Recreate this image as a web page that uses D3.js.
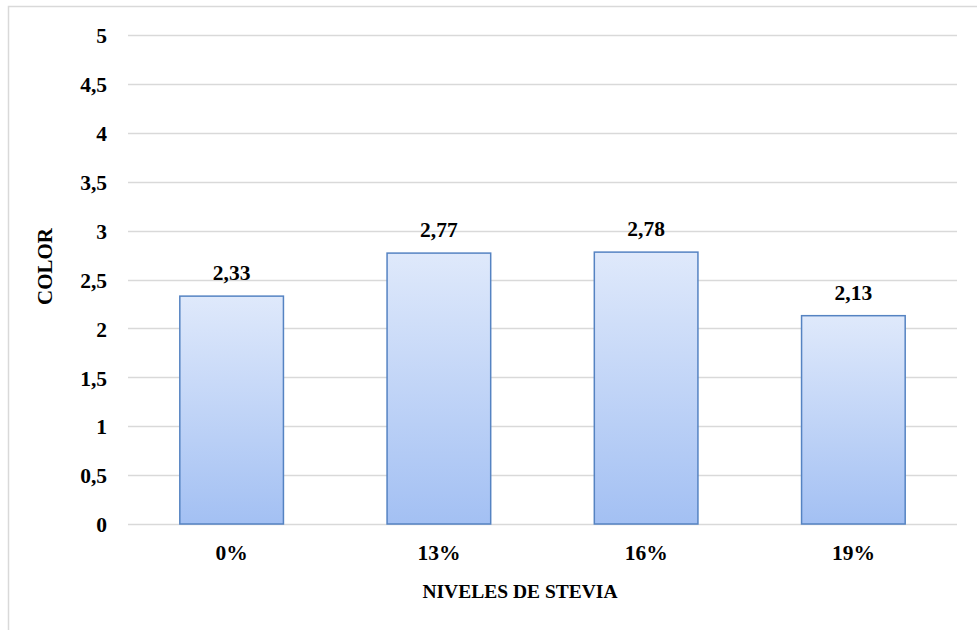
<!DOCTYPE html>
<html><head><meta charset="utf-8">
<script src="https://cdn.jsdelivr.net/npm/d3@7"></script>
<style>body{margin:0;background:#fff}svg text{font-family:"Liberation Serif","Times New Roman",serif;font-weight:bold;fill:#000}</style>
</head><body><svg id="c" width="977" height="630"></svg>
<script>
const categories = ["0%","13%","16%","19%"];
const values = [2.33,2.77,2.78,2.13];
const yTicks = [0,0.5,1,1.5,2,2.5,3,3.5,4,4.5,5];
const yTitle = "COLOR";
const xTitle = "NIVELES DE STEVIA";

const svg = d3.select("#c");
const fmt = v => String(v).replace(".", ",");
const m = {l:128, r:957, t:35, b:524};
svg.append("rect").attr("x",8.5).attr("y",6.5).attr("width",1000).attr("height",700)
  .attr("fill","#fff").attr("stroke","#d9d9d9").attr("stroke-width",1.5);

const defs = svg.append("defs");
const g = defs.append("linearGradient").attr("id","bg").attr("x1",0).attr("y1",0).attr("x2",0).attr("y2",1);
g.append("stop").attr("offset","0%").attr("stop-color","#dfe9fb");
g.append("stop").attr("offset","100%").attr("stop-color","#a3c0f3");

const x = d3.scaleBand().domain(categories).range([m.l,m.r]).paddingInner(0.5).paddingOuter(0.25);
const y = d3.scaleLinear().domain([0,5]).range([m.b,m.t]);

svg.append("g").selectAll("line").data(yTicks).join("line")
  .attr("x1",m.l).attr("x2",m.r).attr("y1",d=>Math.round(y(d))+0.5).attr("y2",d=>Math.round(y(d))+0.5)
  .attr("stroke","#d9d9d9").attr("stroke-width",1.5);

const yAxis = svg.append("g").attr("transform",`translate(${m.l},0)`)
  .call(d3.axisLeft(y).tickValues(yTicks).tickFormat(fmt).tickSize(0).tickPadding(21));
yAxis.select(".domain").remove();
yAxis.attr("font-size",null).attr("font-family",null);
yAxis.selectAll("text").style("font-size","21.5px").attr("dy","0.36em");

svg.append("g").selectAll("text").data(values).join("text")
  .attr("x",(d,i)=>x(categories[i])+x.bandwidth()/2).attr("y",d=>y(d)-16)
  .attr("text-anchor","middle").style("font-size","21.5px").text(fmt);

svg.append("g").selectAll("rect").data(values).join("rect")
  .attr("x",(d,i)=>x(categories[i])).attr("width",x.bandwidth())
  .attr("y",d=>y(d)).attr("height",d=>y(0)-y(d))
  .attr("fill","url(#bg)").attr("stroke","#5583c2").attr("stroke-width",1.5);

const xAxis = svg.append("g").attr("transform",`translate(0,${m.b})`)
  .call(d3.axisBottom(x).tickSize(0).tickPadding(21));
xAxis.select(".domain").remove();
xAxis.attr("font-size",null).attr("font-family",null);
xAxis.selectAll("text").style("font-size","21.5px");

svg.append("text").attr("x",520).attr("y",598).attr("text-anchor","middle").style("font-size","19.5px").text(xTitle);
svg.append("text").attr("transform",`translate(52,266.5) rotate(-90)`).attr("text-anchor","middle").style("font-size","21px").text(yTitle);
</script></body></html>
